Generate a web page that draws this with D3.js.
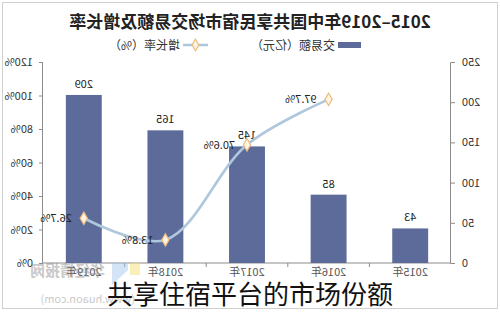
<!DOCTYPE html>
<html>
<head>
<meta charset="utf-8">
<script src="https://cdn.jsdelivr.net/npm/d3@7"></script>
<style>
  body { margin: 0; background: #fff; }
  svg { display: block; }
</style>
</head>
<body>
<svg width="500" height="313"></svg>
<script>
const years = ["2015年", "2016年", "2017年", "2018年", "2019年"];
const amount = [43, 85, 145, 165, 209];           // 交易额（亿元）
const growth = [null, 97.7, 70.6, 13.8, 26.7];    // 增长率（%）
const amountTicks = [0, 50, 100, 150, 200, 250];
const pctTicks = [0, 20, 40, 60, 80, 100, 120];

const barColor = "#5c6b99";
const lineColor = "#afc7dc";
const font = "'Noto Sans CJK SC', 'Liberation Sans', sans-serif";

const svg = d3.select("svg");

svg.append("rect")
  .attr("x", 2.5).attr("y", 2.5)
  .attr("width", 495).attr("height", 306)
  .attr("fill", "#fff").attr("stroke", "#d0d0d0");

// the reference picture is mirrored left-right, so the whole chart is flipped
const g = svg.append("g").attr("transform", "translate(500,0) scale(-1,1)");

const x = d3.scaleBand().domain(years).range([49, 457])
  .paddingInner(0.56).paddingOuter(0.28);
const yAmt = d3.scaleLinear().domain([0, 250]).range([263, 62]);
const yPct = d3.scaleLinear().domain([0, 120]).range([263, 62]);

// title
g.append("text")
  .attr("x", 250).attr("y", 28)
  .attr("text-anchor", "middle")
  .attr("font-family", font).attr("font-weight", "bold")
  .attr("font-size", 17).attr("fill", "#222")
  .text("2015–2019年中国共享民宿市场交易额及增长率");

// legend
const leg = g.append("g").attr("font-family", font).attr("font-size", 12).attr("fill", "#333");
leg.append("rect").attr("x", 139).attr("y", 42).attr("width", 23).attr("height", 6).attr("fill", barColor);
leg.append("text").attr("x", 165).attr("y", 49.5).attr("fill", "#333").text("交易额（亿元）");
leg.append("line").attr("x1", 292).attr("x2", 317).attr("y1", 45).attr("y2", 45)
  .attr("stroke", lineColor).attr("stroke-width", 2.5);
leg.append("path").attr("d", d3.symbol(d3.symbolDiamond, 40)())
  .attr("transform", "translate(304.5,45)")
  .attr("fill", "#fff4e0").attr("stroke", "#ebbd80").attr("stroke-width", 1.2);
leg.append("text").attr("x", 320).attr("y", 49.5).attr("fill", "#333").text("增长率（%）");

// axes
function styleAxis(sel) {
  sel.selectAll("path, line").attr("stroke", "#8c8c8c");
  sel.selectAll("text").attr("font-family", font).attr("font-size", 11).attr("fill", "#333");
}

g.append("g").attr("transform", "translate(49,0)")
  .call(d3.axisLeft(yAmt).tickValues(amountTicks).tickSize(4).tickSizeOuter(0).tickPadding(7))
  .call(styleAxis);

g.append("g").attr("transform", "translate(457,0)")
  .call(d3.axisRight(yPct).tickValues(pctTicks).tickSize(4).tickSizeOuter(0).tickPadding(6)
    .tickFormat(d => d + "%"))
  .call(styleAxis);

const xAxis = g.append("g").attr("transform", "translate(0,263)");
xAxis.append("line").attr("x1", 49).attr("x2", 457).attr("stroke", "#8c8c8c");
xAxis.selectAll("line.tk")
  .data(years.slice(1))
  .join("line")
  .attr("class", "tk")
  .attr("x1", d => x(d) - x.step() * x.paddingInner() / 2)
  .attr("x2", d => x(d) - x.step() * x.paddingInner() / 2)
  .attr("y1", 0).attr("y2", 4)
  .attr("stroke", "#8c8c8c");
xAxis.selectAll("text")
  .data(years)
  .join("text")
  .attr("x", d => x(d) + x.bandwidth() / 2)
  .attr("y", 13)
  .attr("text-anchor", "middle")
  .attr("font-family", font).attr("font-size", 11).attr("fill", "#555")
  .text(d => d);

// bars
g.selectAll("rect.bar")
  .data(amount)
  .join("rect")
  .attr("class", "bar")
  .attr("x", (d, i) => x(years[i]))
  .attr("width", x.bandwidth())
  .attr("y", d => yAmt(d))
  .attr("height", d => yAmt(0) - yAmt(d))
  .attr("fill", barColor);

g.selectAll("text.bv")
  .data(amount)
  .join("text")
  .attr("class", "bv")
  .attr("x", (d, i) => x(years[i]) + x.bandwidth() / 2)
  .attr("y", d => yAmt(d) - 7)
  .attr("text-anchor", "middle")
  .attr("font-family", font).attr("font-size", 11).attr("fill", "#222")
  .text(d => d);

// growth line
const pts = growth.map((v, i) => ({ v, yr: years[i] })).filter(d => d.v != null);
const line = d3.line()
  .x(d => x(d.yr) + x.bandwidth() / 2)
  .y(d => yPct(d.v))
  .curve(d3.curveCatmullRom.alpha(0.5));

g.append("path")
  .datum(pts)
  .attr("d", line)
  .attr("fill", "none")
  .attr("stroke", lineColor)
  .attr("stroke-width", 2.6);

g.selectAll("path.mk")
  .data(pts)
  .join("path")
  .attr("class", "mk")
  .attr("d", d3.symbol(d3.symbolDiamond, 45)())
  .attr("transform", d => `translate(${x(d.yr) + x.bandwidth() / 2},${yPct(d.v)})`)
  .attr("fill", "#fff4e0").attr("stroke", "#ebbd80").attr("stroke-width", 1.2);

g.selectAll("text.pv")
  .data(pts)
  .join("text")
  .attr("class", "pv")
  .attr("x", d => x(d.yr) + x.bandwidth() / 2 + 12)
  .attr("y", d => yPct(d.v) + 4)
  .attr("font-family", font).attr("font-size", 11).attr("fill", "#222")
  .text(d => d.v.toFixed(1) + "%");

// watermark
const wm = g.append("g").attr("opacity", 0.45);
wm.append("rect").attr("x", 360).attr("y", 263).attr("width", 10).attr("height", 12).attr("fill", "#f6dc6a");
wm.append("path").attr("d", "M372,263 L388,263 L388,285 L372,270 Z").attr("fill", "#9cc4ec");
wm.append("text").attr("x", 395).attr("y", 276)
  .attr("font-family", font).attr("font-weight", "bold").attr("font-size", 15).attr("fill", "#888")
  .text("华经情报网");
wm.append("text").attr("x", 365).attr("y", 303)
  .attr("font-family", font).attr("font-size", 11).attr("fill", "#888")
  .text("(www.huaon.com)");

// caption over the picture (not mirrored)
svg.append("text")
  .attr("x", 250).attr("y", 304)
  .attr("text-anchor", "middle")
  .attr("font-family", font).attr("font-size", 26).attr("fill", "#111")
  .text("共享住宿平台的市场份额");
</script>
</body>
</html>
